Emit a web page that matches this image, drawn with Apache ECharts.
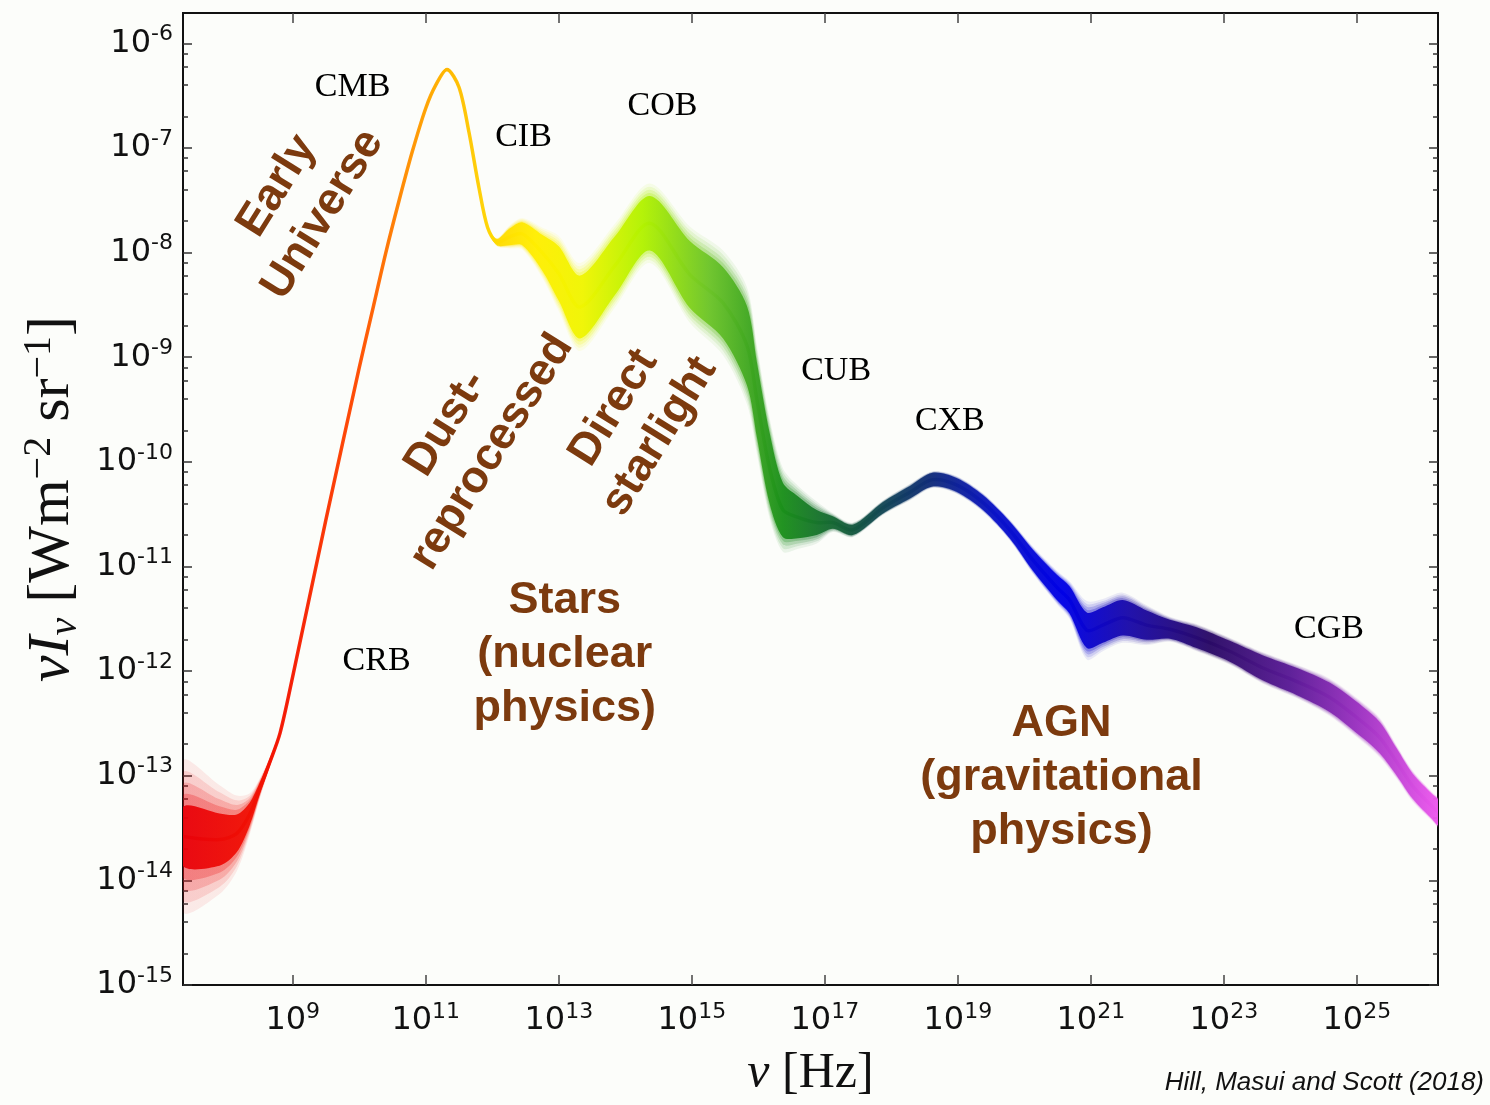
<!DOCTYPE html>
<html>
<head>
<meta charset="utf-8">
<script src="https://cdn.jsdelivr.net/npm/echarts@6/dist/echarts.min.js"></script>
<style>
html, body { margin: 0; padding: 0; background: #fcfdfa; }
#chart { width: 1490px; height: 1105px; }
</style>
</head>
<body>
<div id="chart"></div>
<script>
// log10(nu / Hz) sample points along the background spectrum
const logNu = [
  7.35, 7.9, 8.16, 8.35, 8.5, 8.65, 8.81, 9.0, 9.5, 10.0,
  10.2, 10.4, 10.6, 10.8, 11.0, 11.15, 11.32, 11.5, 11.65, 11.8,
  11.93, 12.07, 12.26, 12.45, 12.75, 13.0, 13.32, 13.85, 14.37, 14.97,
  15.47, 15.83, 15.98, 16.17, 16.37, 16.6, 16.88, 17.12, 17.42, 17.87,
  18.28, 18.62, 18.98, 19.38, 19.78, 20.13, 20.49, 20.68, 20.94, 21.18,
  21.48, 21.84, 22.19, 22.59, 23.09, 23.59, 24.1, 24.59, 25.09, 25.35,
  25.6, 25.84, 26.14, 26.22
];
// log10(nu I_nu / W m^-2 sr^-1), middle of the cloud
const logNuInu = [
  -13.58, -13.61, -13.55, -13.37, -13.13, -12.88, -12.59, -12.05, -10.55, -9.1,
  -8.55, -8.0, -7.5, -7.03, -6.62, -6.4, -6.25, -6.42, -6.85, -7.38,
  -7.76, -7.9, -7.85, -7.82, -8.0, -8.2, -8.52, -8.12, -7.72, -8.21,
  -8.48, -8.89, -9.41, -10.06, -10.46, -10.53, -10.58, -10.58, -10.65, -10.44,
  -10.29, -10.17, -10.22, -10.39, -10.65, -10.94, -11.2, -11.32, -11.61, -11.56,
  -11.49, -11.56, -11.6, -11.68, -11.81, -11.97, -12.1, -12.25, -12.49, -12.64,
  -12.87, -13.1, -13.3, -13.35
];
// half thickness (decades) of the dense core of the cloud
const denseHalf = [
  0.28, 0.25, 0.18, 0.11, 0.06, 0.035, 0.02, 0.015, 0.015, 0.015,
  0.015, 0.015, 0.015, 0.015, 0.015, 0.015, 0.015, 0.015, 0.015, 0.015,
  0.015, 0.03, 0.08, 0.11, 0.17, 0.26, 0.3, 0.28, 0.26, 0.32,
  0.34, 0.38, 0.36, 0.34, 0.26, 0.2, 0.12, 0.06, 0.05, 0.055,
  0.06, 0.065, 0.065, 0.07, 0.08, 0.1, 0.12, 0.13, 0.17, 0.17,
  0.17, 0.14, 0.09, 0.1, 0.1, 0.12, 0.13, 0.14, 0.15, 0.15,
  0.13, 0.12, 0.12, 0.12
];
// half thickness (decades) of the faint outer scatter
const fuzzHalf = [
  0.72, 0.52, 0.36, 0.2, 0.1, 0.05, 0.025, 0.015, 0.015, 0.015,
  0.015, 0.015, 0.015, 0.015, 0.015, 0.015, 0.015, 0.015, 0.015, 0.015,
  0.015, 0.04, 0.11, 0.15, 0.24, 0.36, 0.42, 0.4, 0.38, 0.46,
  0.5, 0.56, 0.52, 0.48, 0.4, 0.3, 0.2, 0.09, 0.07, 0.07,
  0.08, 0.08, 0.085, 0.09, 0.1, 0.13, 0.16, 0.18, 0.28, 0.25,
  0.24, 0.19, 0.12, 0.13, 0.13, 0.15, 0.16, 0.18, 0.19, 0.19,
  0.16, 0.15, 0.14, 0.14
];

const xTicks = [9, 11, 13, 15, 17, 19, 21, 23, 25];
const yTicks = [-15, -14, -13, -12, -11, -10, -9, -8, -7, -6];
const yMinorMultiples = [2, 4, 6, 8];

// background names (serif) and region notes (brown)
const bgNames = ['CMB', 'CIB', 'COB', 'CUB', 'CXB', 'CRB', 'CGB'];
const bgNameNu = [9.9, 12.47, 14.56, 17.17, 18.88, 10.26, 24.58];
const bgNameY = [-6.42, -6.9, -6.6, -9.13, -9.61, -11.9, -11.6];

const notes = ['Early\nUniverse', 'Dust-\nreprocessed', 'Direct\nstarlight',
  'Stars\n(nuclear\nphysics)', 'AGN\n(gravitational\nphysics)'];
const noteNu = [9.11, 11.65, 14.17, 13.09, 20.56];
const noteY = [-7.5, -9.77, -9.62, -11.84, -13.02];
const noteAngle = [58, 58, 58, 0, 0];

const X_MIN = 7.35, X_MAX = 26.22, Y_MIN = -15, Y_MAX = -5.71;

// colour along frequency
const colorAt = [
  [7.35, '#e8000a'], [9.0, '#f51800'], [10.0, '#ff4a00'], [10.7, '#ff8a00'],
  [11.3, '#ffb400'], [12.0, '#ffd600'], [12.7, '#ffee00'], [13.4, '#f0f500'],
  [14.3, '#b2f200'], [15.3, '#6cc428'], [16.4, '#1a8f1a'], [17.4, '#145a3c'],
  [18.6, '#102c78'], [19.6, '#0a12c8'], [20.6, '#0000e6'], [21.6, '#1a0aa8'],
  [22.8, '#2a0a66'], [24.0, '#5a1a96'], [25.0, '#9a30c0'], [26.22, '#ee58ee']
];
function spectrumGradient() {
  return new echarts.graphic.LinearGradient(0, 0, 1, 0, colorAt.map(function (c) {
    return { offset: (c[0] - X_MIN) / (X_MAX - X_MIN), color: c[1] };
  }));
}

let yMinor = [];
yTicks.forEach(function (n) {
  yMinorMultiples.forEach(function (k) {
    const v = n + Math.log10(k);
    if (v < Y_MAX) yMinor.push(v);
  });
});

// band series: one polygon through all points, lower edge then upper edge;
// t blends the half thickness from the dense core (0) to the outer fuzz (1)
function band(t, opacity) {
  return {
    type: 'custom', silent: true, clip: true,
    data: logNu.map(function (x, i) {
      const h = denseHalf[i] + t * (fuzzHalf[i] - denseHalf[i]);
      return [x, logNuInu[i] - h, logNuInu[i] + h];
    }),
    renderItem: function (params, api) {
      if (params.dataIndexInside !== 0) return null;
      const n = params.dataInsideLength;
      const top = [], bottom = [];
      for (let i = 0; i < n; i++) {
        top.push(api.coord([api.value(0, i), api.value(2, i)]));
        bottom.push(api.coord([api.value(0, i), api.value(1, i)]));
      }
      return {
        type: 'polygon',
        shape: { points: top.concat(bottom.reverse()), smooth: 0.3 },
        style: { fill: spectrumGradient(), opacity: opacity }
      };
    }
  };
}

// thin middle curve (visible where the cloud collapses to a line, e.g. the CMB)
const midLine = {
  type: 'custom', silent: true, clip: true,
  data: logNu.map(function (x, i) { return [x, logNuInu[i]]; }),
  renderItem: function (params, api) {
    if (params.dataIndexInside !== 0) return null;
    const pts = [];
    for (let i = 0; i < params.dataInsideLength; i++) {
      pts.push(api.coord([api.value(0, i), api.value(1, i)]));
    }
    return {
      type: 'polyline',
      shape: { points: pts, smooth: 0.3 },
      style: { stroke: spectrumGradient(), lineWidth: 3.5, fill: null, opacity: 0.95 }
    };
  }
};

const tickFont = 'DejaVu Sans';
const powerLabel = {
  formatter: function (v) { return '{b|10}{s|' + Math.round(v) + '}'; },
  rich: {
    b: { fontSize: 32, fontFamily: tickFont, lineHeight: 40, color: '#111' },
    s: { fontSize: 22, fontFamily: tickFont, lineHeight: 16, verticalAlign: 'top', color: '#111' }
  }
};
const frameLine = { show: true, lineStyle: { color: '#111', width: 2 } };

function xAxis(pos, labels) {
  return {
    type: 'value', position: pos, min: X_MIN, max: X_MAX,
    axisLine: frameLine,
    axisTick: { show: true, inside: true, length: 10, customValues: xTicks,
      lineStyle: { color: '#444', width: 1.5 } },
    axisLabel: labels ? Object.assign({ show: true, customValues: xTicks, margin: 16 }, powerLabel)
      : { show: false },
    splitLine: { show: false }
  };
}
function yAxis(pos, ticks, len, labels) {
  return {
    type: 'value', position: pos, min: Y_MIN, max: Y_MAX, offset: 0,
    axisLine: frameLine,
    axisTick: { show: true, inside: true, length: len, customValues: ticks,
      lineStyle: { color: '#333', width: 1.5 } },
    axisLabel: labels ? Object.assign({ show: true, customValues: yTicks, margin: 10 }, powerLabel)
      : { show: false },
    splitLine: { show: false }
  };
}

const serif = 'Liberation Serif';
const xa = xAxis('bottom', true);
xa.name = '{it|ν}{rm| [Hz]}';
xa.nameLocation = 'middle';
xa.nameGap = 64;
xa.nameTextStyle = { rich: {
  it: { fontFamily: serif, fontStyle: 'italic', fontSize: 50, color: '#111' },
  rm: { fontFamily: serif, fontSize: 50, color: '#111' }
} };

const ya = yAxis('left', yTicks, 9, true);
ya.name = '{it|νI}{sub|ν}{rm| [Wm}{sup|−2}{rm| sr}{sup|−1}{rm|]}';
ya.nameLocation = 'middle';
ya.nameRotate = 90;
ya.nameGap = 98;
ya.nameTextStyle = { rich: {
  it: { fontFamily: serif, fontStyle: 'italic', fontSize: 60, lineHeight: 66, color: '#111' },
  sub: { fontFamily: serif, fontStyle: 'italic', fontSize: 40, lineHeight: 30, verticalAlign: 'bottom', color: '#111' },
  rm: { fontFamily: serif, fontSize: 60, lineHeight: 66, color: '#111' },
  sup: { fontFamily: serif, fontSize: 40, lineHeight: 30, verticalAlign: 'top', color: '#111' }
} };

const option = {
  animation: false,
  backgroundColor: '#fcfdfa',
  grid: { left: 183, right: 52, top: 13, bottom: 120, outerBoundsMode: 'none', containLabel: false },
  xAxis: [xa, xAxis('top', false)],
  yAxis: [
    ya,
    yAxis('left', yMinor, 5, false),
    yAxis('right', yTicks, 9, false),
    yAxis('right', yMinor, 5, false)
  ],
  series: [
    midLine,
    band(1, 0.08),
    band(0.75, 0.12),
    band(0.5, 0.18),
    band(0.25, 0.25),
    band(0, 0.93),
    {
      type: 'scatter', symbolSize: 1, silent: true,
      itemStyle: { color: 'rgba(0,0,0,0)', opacity: 1 },
      label: { show: true, position: 'inside', fontFamily: serif, fontSize: 34, color: '#000', opacity: 1,
        formatter: function (p) { return p.data.name; } },
      data: bgNames.map(function (n, i) { return { name: n, value: [bgNameNu[i], bgNameY[i]] }; })
    },
    {
      type: 'scatter', symbolSize: 1, silent: true,
      itemStyle: { color: 'rgba(0,0,0,0)', opacity: 1 },
      data: notes.map(function (n, i) {
        return {
          name: n, value: [noteNu[i], noteY[i]],
          label: { show: true, position: 'inside', rotate: noteAngle[i], align: 'center',
            verticalAlign: 'middle', fontFamily: 'Liberation Sans', fontWeight: 'bold',
            fontSize: 45, lineHeight: 54, color: '#7c3a0e', opacity: 1,
            formatter: function (p) { return p.data.name; } }
        };
      })
    }
  ],
  graphic: [{
    type: 'text', right: 6, bottom: 9,
    style: { text: 'Hill, Masui and Scott (2018)', font: 'italic 26px "Liberation Sans"', fill: '#111' }
  }]
};

const chart = echarts.init(document.getElementById('chart'));
chart.setOption(option);
</script>
</body>
</html>
